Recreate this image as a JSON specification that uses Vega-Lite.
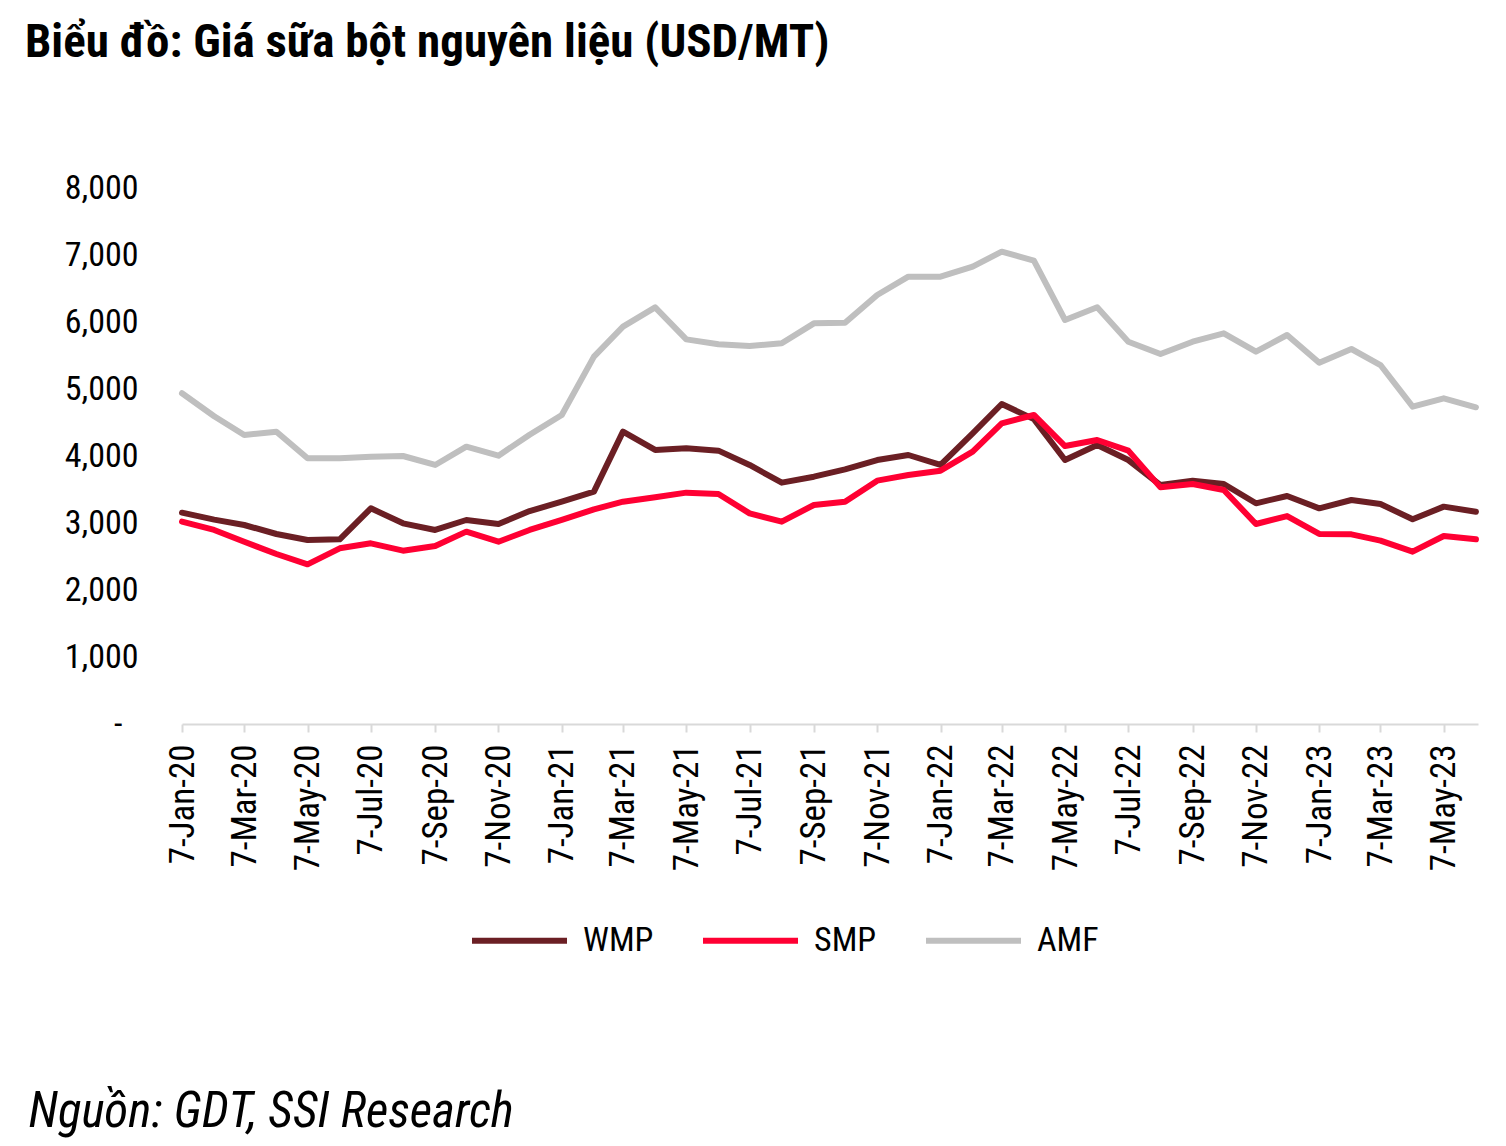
{
  "$schema": "https://vega.github.io/schema/vega-lite/v6.json",
  "width": 1296,
  "height": 536,
  "autosize": "none",
  "padding": {"left": 182, "top": 188, "right": 28, "bottom": 422},
  "background": "white",
  "config": {"view": {"stroke": null}, "font": "Roboto Condensed, Arial Narrow, DejaVu Sans Condensed, sans-serif"},
  "title": {
    "text": "Biểu đồ: Giá sữa bột nguyên liệu (USD/MT)",
    "anchor": "start",
    "frame": "group",
    "orient": "top",
    "dx": -157,
    "offset": 0,
    "dy": -104,
    "font": "Roboto Condensed, Arial Narrow, DejaVu Sans Condensed, sans-serif",
    "fontSize": 47,
    "fontWeight": "bold",
    "color": "#000000"
  },
  "data": {"values": [
    {"date":"2020-01-07","series":"AMF","value":4936},{"date":"2020-02-07","series":"AMF","value":4594},{"date":"2020-03-07","series":"AMF","value":4313},{"date":"2020-04-07","series":"AMF","value":4363},{"date":"2020-05-07","series":"AMF","value":3965},{"date":"2020-06-07","series":"AMF","value":3965},{"date":"2020-07-07","series":"AMF","value":3990},{"date":"2020-08-07","series":"AMF","value":4000},{"date":"2020-09-07","series":"AMF","value":3866},{"date":"2020-10-07","series":"AMF","value":4139},{"date":"2020-11-07","series":"AMF","value":4005},{"date":"2020-12-07","series":"AMF","value":4318},
    {"date":"2021-01-07","series":"AMF","value":4612},{"date":"2021-02-07","series":"AMF","value":5483},{"date":"2021-03-07","series":"AMF","value":5930},{"date":"2021-04-07","series":"AMF","value":6219},{"date":"2021-05-07","series":"AMF","value":5741},{"date":"2021-06-07","series":"AMF","value":5667},{"date":"2021-07-07","series":"AMF","value":5642},{"date":"2021-08-07","series":"AMF","value":5682},{"date":"2021-09-07","series":"AMF","value":5980},{"date":"2021-10-07","series":"AMF","value":5990},{"date":"2021-11-07","series":"AMF","value":6403},{"date":"2021-12-07","series":"AMF","value":6677},
    {"date":"2022-01-07","series":"AMF","value":6677},{"date":"2022-02-07","series":"AMF","value":6826},{"date":"2022-03-07","series":"AMF","value":7050},{"date":"2022-04-07","series":"AMF","value":6915},{"date":"2022-05-07","series":"AMF","value":6030},{"date":"2022-06-07","series":"AMF","value":6219},{"date":"2022-07-07","series":"AMF","value":5706},{"date":"2022-08-07","series":"AMF","value":5522},{"date":"2022-09-07","series":"AMF","value":5706},{"date":"2022-10-07","series":"AMF","value":5831},{"date":"2022-11-07","series":"AMF","value":5557},{"date":"2022-12-07","series":"AMF","value":5806},
    {"date":"2023-01-07","series":"AMF","value":5393},{"date":"2023-02-07","series":"AMF","value":5597},{"date":"2023-03-07","series":"AMF","value":5358},{"date":"2023-04-07","series":"AMF","value":4736},{"date":"2023-05-07","series":"AMF","value":4861},{"date":"2023-06-07","series":"AMF","value":4727},

    {"date":"2020-01-07","series":"WMP","value":3154},{"date":"2020-02-07","series":"WMP","value":3050},{"date":"2020-03-07","series":"WMP","value":2970},{"date":"2020-04-07","series":"WMP","value":2836},{"date":"2020-05-07","series":"WMP","value":2746},{"date":"2020-06-07","series":"WMP","value":2756},{"date":"2020-07-07","series":"WMP","value":3219},{"date":"2020-08-07","series":"WMP","value":2995},{"date":"2020-09-07","series":"WMP","value":2896},{"date":"2020-10-07","series":"WMP","value":3045},{"date":"2020-11-07","series":"WMP","value":2985},{"date":"2020-12-07","series":"WMP","value":3179},
    {"date":"2021-01-07","series":"WMP","value":3318},{"date":"2021-02-07","series":"WMP","value":3468},{"date":"2021-03-07","series":"WMP","value":4363},{"date":"2021-04-07","series":"WMP","value":4090},{"date":"2021-05-07","series":"WMP","value":4115},{"date":"2021-06-07","series":"WMP","value":4080},{"date":"2021-07-07","series":"WMP","value":3866},{"date":"2021-08-07","series":"WMP","value":3602},{"date":"2021-09-07","series":"WMP","value":3691},{"date":"2021-10-07","series":"WMP","value":3801},{"date":"2021-11-07","series":"WMP","value":3940},{"date":"2021-12-07","series":"WMP","value":4015},
    {"date":"2022-01-07","series":"WMP","value":3866},{"date":"2022-02-07","series":"WMP","value":4338},{"date":"2022-03-07","series":"WMP","value":4776},{"date":"2022-04-07","series":"WMP","value":4550},{"date":"2022-05-07","series":"WMP","value":3940},{"date":"2022-06-07","series":"WMP","value":4164},{"date":"2022-07-07","series":"WMP","value":3940},{"date":"2022-08-07","series":"WMP","value":3567},{"date":"2022-09-07","series":"WMP","value":3632},{"date":"2022-10-07","series":"WMP","value":3582},{"date":"2022-11-07","series":"WMP","value":3294},{"date":"2022-12-07","series":"WMP","value":3403},
    {"date":"2023-01-07","series":"WMP","value":3219},{"date":"2023-02-07","series":"WMP","value":3343},{"date":"2023-03-07","series":"WMP","value":3284},{"date":"2023-04-07","series":"WMP","value":3055},{"date":"2023-05-07","series":"WMP","value":3244},{"date":"2023-06-07","series":"WMP","value":3169},

    {"date":"2020-01-07","series":"SMP","value":3020},{"date":"2020-02-07","series":"SMP","value":2896},{"date":"2020-03-07","series":"SMP","value":2721},{"date":"2020-04-07","series":"SMP","value":2537},{"date":"2020-05-07","series":"SMP","value":2383},{"date":"2020-06-07","series":"SMP","value":2622},{"date":"2020-07-07","series":"SMP","value":2697},{"date":"2020-08-07","series":"SMP","value":2587},{"date":"2020-09-07","series":"SMP","value":2657},{"date":"2020-10-07","series":"SMP","value":2871},{"date":"2020-11-07","series":"SMP","value":2721},{"date":"2020-12-07","series":"SMP","value":2896},
    {"date":"2021-01-07","series":"SMP","value":3045},{"date":"2021-02-07","series":"SMP","value":3204},{"date":"2021-03-07","series":"SMP","value":3318},{"date":"2021-04-07","series":"SMP","value":3383},{"date":"2021-05-07","series":"SMP","value":3453},{"date":"2021-06-07","series":"SMP","value":3433},{"date":"2021-07-07","series":"SMP","value":3144},{"date":"2021-08-07","series":"SMP","value":3020},{"date":"2021-09-07","series":"SMP","value":3269},{"date":"2021-10-07","series":"SMP","value":3318},{"date":"2021-11-07","series":"SMP","value":3632},{"date":"2021-12-07","series":"SMP","value":3716},
    {"date":"2022-01-07","series":"SMP","value":3781},{"date":"2022-02-07","series":"SMP","value":4065},{"date":"2022-03-07","series":"SMP","value":4488},{"date":"2022-04-07","series":"SMP","value":4612},{"date":"2022-05-07","series":"SMP","value":4149},{"date":"2022-06-07","series":"SMP","value":4239},{"date":"2022-07-07","series":"SMP","value":4080},{"date":"2022-08-07","series":"SMP","value":3532},{"date":"2022-09-07","series":"SMP","value":3582},{"date":"2022-10-07","series":"SMP","value":3493},{"date":"2022-11-07","series":"SMP","value":2985},{"date":"2022-12-07","series":"SMP","value":3104},
    {"date":"2023-01-07","series":"SMP","value":2836},{"date":"2023-02-07","series":"SMP","value":2831},{"date":"2023-03-07","series":"SMP","value":2736},{"date":"2023-04-07","series":"SMP","value":2572},{"date":"2023-05-07","series":"SMP","value":2806},{"date":"2023-06-07","series":"SMP","value":2756}
  ]},
  "mark": {"type": "line", "strokeWidth": 6, "strokeJoin": "round", "strokeCap": "round"},
  "encoding": {
    "x": {
      "field": "date",
      "type": "temporal",
      "scale": {"type": "utc", "domain": [{"year": 2020, "month": 1, "date": 7, "utc": true}, {"year": 2023, "month": 6, "date": 9, "utc": true}]},
      "axis": {
        "values": [
          {"year": 2020, "month": 1, "date": 7, "utc": true},{"year": 2020, "month": 3, "date": 7, "utc": true},{"year": 2020, "month": 5, "date": 7, "utc": true},{"year": 2020, "month": 7, "date": 7, "utc": true},{"year": 2020, "month": 9, "date": 7, "utc": true},{"year": 2020, "month": 11, "date": 7, "utc": true},
          {"year": 2021, "month": 1, "date": 7, "utc": true},{"year": 2021, "month": 3, "date": 7, "utc": true},{"year": 2021, "month": 5, "date": 7, "utc": true},{"year": 2021, "month": 7, "date": 7, "utc": true},{"year": 2021, "month": 9, "date": 7, "utc": true},{"year": 2021, "month": 11, "date": 7, "utc": true},
          {"year": 2022, "month": 1, "date": 7, "utc": true},{"year": 2022, "month": 3, "date": 7, "utc": true},{"year": 2022, "month": 5, "date": 7, "utc": true},{"year": 2022, "month": 7, "date": 7, "utc": true},{"year": 2022, "month": 9, "date": 7, "utc": true},{"year": 2022, "month": 11, "date": 7, "utc": true},
          {"year": 2023, "month": 1, "date": 7, "utc": true},{"year": 2023, "month": 3, "date": 7, "utc": true},{"year": 2023, "month": 5, "date": 7, "utc": true}
        ],
        "labelExpr": "utcFormat(datum.value, '%-d-%b-%y')",
        "labelAngle": -90,
        "labelAlign": "right",
        "labelBaseline": "middle",
        "labelFontSize": 35,
        "labelColor": "#000000",
        "labelPadding": 12,
        "labelOverlap": false,
        "labelFlush": false,
        "tickSize": 8,
        "tickWidth": 2,
        "tickColor": "#d9d9d9",
        "domainColor": "#d9d9d9",
        "domainWidth": 2,
        "grid": false,
        "title": "Nguồn: GDT, SSI Research",
        "titleX": -154,
        "titleY": 402,
        "titleAlign": "left",
        "titleAnchor": null,
        "titleBaseline": "alphabetic",
        "titleAngle": 0,
        "titleFontSize": 49,
        "titleFontStyle": "italic",
        "titleFontWeight": "normal",
        "titleColor": "#000000"
      }
    },
    "y": {
      "field": "value",
      "type": "quantitative",
      "scale": {"domain": [0, 8000], "nice": false},
      "axis": {
        "values": [0, 1000, 2000, 3000, 4000, 5000, 6000, 7000, 8000],
        "labelExpr": "datum.value == 0 ? '-' : format(datum.value, ',')",
        "labelFontSize": 34,
        "labelColor": "#000000",
        "labelPadding": {"condition": {"test": "datum.value == 0", "value": 60}, "value": 44},
        "ticks": false,
        "domain": false,
        "grid": false,
        "title": null
      }
    },
    "color": {
      "field": "series",
      "type": "nominal",
      "scale": {"domain": ["WMP", "SMP", "AMF"], "range": ["#6B1F24", "#FF0033", "#BFBFBF"]},
      "legend": {
        "title": null,
        "orient": "none",
        "direction": "horizontal",
        "legendX": 287,
        "legendY": 702,
        "symbolType": "stroke",
        "symbolSize": 9025,
        "symbolStrokeWidth": 6,
        "labelFontSize": 34,
        "labelColor": "#000000",
        "labelOffset": 13,
        "columnPadding": 37,
        "padding": 0
      }
    }
  }
}
